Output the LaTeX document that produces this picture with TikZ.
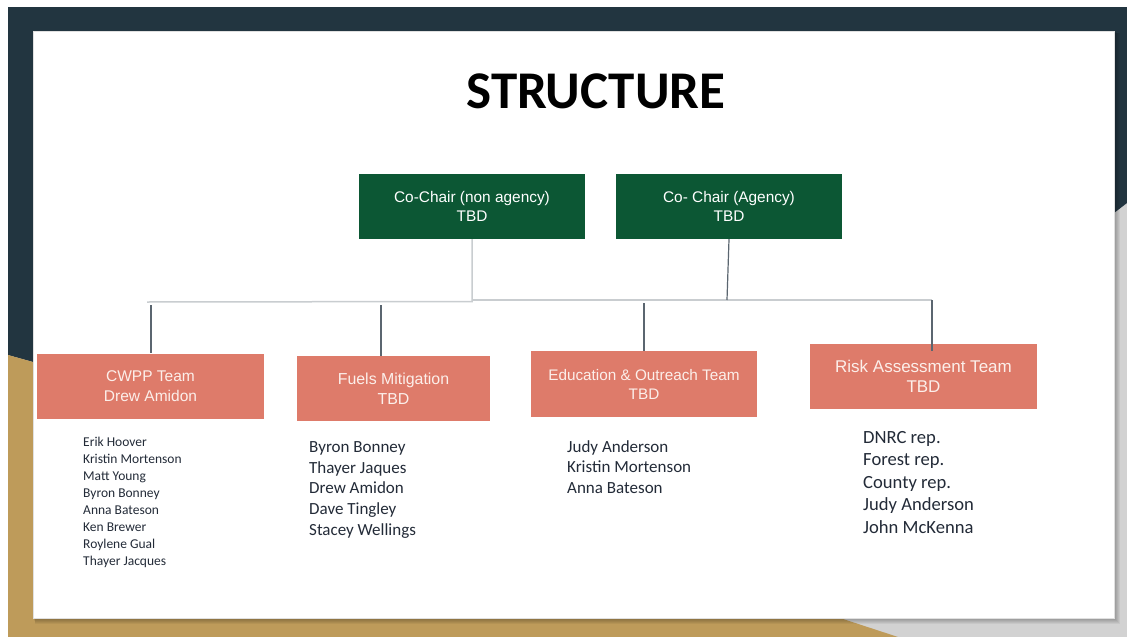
\documentclass[tikz,border=0pt]{standalone}
\usepackage{fontspec}
\setmainfont{Liberation Sans}
\newfontfamily\calibri{Carlito}
\definecolor{navy}{HTML}{223540}
\definecolor{gold}{HTML}{BE9B5A}
\definecolor{bggray}{HTML}{D2D2D2}
\definecolor{chairgreen}{HTML}{0C5734}
\definecolor{teamsalmon}{HTML}{DE7B6A}
\definecolor{lightline}{HTML}{C9CDD0}
\definecolor{darkline}{HTML}{5B6670}
\definecolor{listtext}{HTML}{232B38}
\definecolor{teamtext}{HTML}{FCEFEA}
\begin{document}
\begin{tikzpicture}[x=1pt,y=-1pt,
  chairbox/.style={fill=chairgreen,text=white,inner sep=0pt,minimum width=226pt,minimum height=65pt,align=center,font=\fontsize{15.4}{19}\selectfont},
  teambox/.style={fill=teamsalmon,text=teamtext,inner sep=0pt,minimum height=65pt,align=center},
  member/.style={anchor=base west,inner sep=0pt,text=listtext},
  graylink/.style={draw=lightline,line width=1.5pt},
  darklink/.style={draw=darkline,line width=1.2pt}]
\useasboundingbox (0,0) rectangle (1127,637);
% background
\fill[white] (0,0) rectangle (1127,637);
\fill[bggray] (8,7) rectangle (1127,637);
\fill[navy] (8,7) -- (1127,7) -- (1127,203) -- (1114,213) -- (600,300) -- (33,362) -- (8,355) -- cycle;
\fill[gold] (8,355) -- (33,362) -- (600,540) -- (840,618) -- (898,637) -- (8,637) -- cycle;
% slide shadow
\foreach \i in {1,...,6}
  \fill[black,opacity=0.05] (33+\i*0.4,31+\i*0.4) rectangle (1114+\i,618+\i);
\fill[white] (33,31) rectangle (1114,618);
\draw[black!12,line width=0.6pt] (33,31) rectangle (1114,618);
% title
\node[font={\calibri\bfseries\fontsize{53}{60}\selectfont},anchor=base,inner sep=0pt] (title) at (596,108) {STRUCTURE};
% chairs
\node[chairbox] (chairA) at (472,206.5) {Co-Chair (non agency)\\TBD};
\node[chairbox] (chairB) at (729,206.5) {Co- Chair (Agency)\\TBD};
% teams
\node[teambox,minimum width=227pt,font=\fontsize{15.5}{20}\selectfont] (cwpp) at (150.5,386) {CWPP Team\\Drew Amidon};
\node[teambox,minimum width=193pt,font=\fontsize{15.9}{20}\selectfont] (fuels) at (393.5,388.5) {Fuels Mitigation\\TBD};
\node[teambox,minimum width=226pt,minimum height=66pt,font=\fontsize{15.3}{19}\selectfont] (educ) at (644,384) {Education \& Outreach Team\\TBD};
\node[teambox,minimum width=227pt,font=\fontsize{17}{20}\selectfont] (risk) at (923.5,376.5) {Risk Assessment Team\\TBD};
% junction coordinates
\coordinate (jA) at (472,301.5);
\coordinate (jL) at (147,302);
\coordinate (jA2) at (472,300);
\coordinate (jR) at (932,300);
\coordinate (jB) at (727,300);
\coordinate (tC) at (151,305);
\coordinate (tF) at (381,305);
\coordinate (tE) at (644,303);
\coordinate (bR) at (932,351);
% connectors
\draw[graylink] (chairA.south) -- (jA) -- (jL);
\draw[graylink] (jA2) -- (jR);
\draw[darklink] (chairB.south) -- (jB);
\draw[darklink] (tC) -- (tC |- cwpp.north);
\draw[darklink] (tF) -- (tF |- fuels.north);
\draw[darklink] (tE) -- (tE |- educ.north);
\draw[darklink] (jR) -- (bR);
% member lists
\foreach \n [count=\i from 0] in {Erik Hoover,Kristin Mortenson,Matt Young,Byron Bonney,Anna Bateson,Ken Brewer,Roylene Gual,Thayer Jacques}
  \node[member,font={\calibri\fontsize{13.5}{16}\selectfont}] (cm\i) at (83,446.3+17*\i) {\n};
\foreach \n [count=\i from 0] in {Byron Bonney,Thayer Jaques,Drew Amidon,Dave Tingley,Stacey Wellings}
  \node[member,font={\calibri\fontsize{17}{20}\selectfont}] (fm\i) at (309,452.4+20.75*\i) {\n};
\foreach \n [count=\i from 0] in {Judy Anderson,Kristin Mortenson,Anna Bateson}
  \node[member,font={\calibri\fontsize{17}{20}\selectfont}] (em\i) at (567,452.4+20.5*\i) {\n};
\foreach \n [count=\i from 0] in {DNRC rep.,Forest rep.,County rep.,Judy Anderson,John McKenna}
  \node[member,font={\calibri\fontsize{18.6}{22}\selectfont}] (rm\i) at (863,443+22.5*\i) {\n};
\end{tikzpicture}
\end{document}
